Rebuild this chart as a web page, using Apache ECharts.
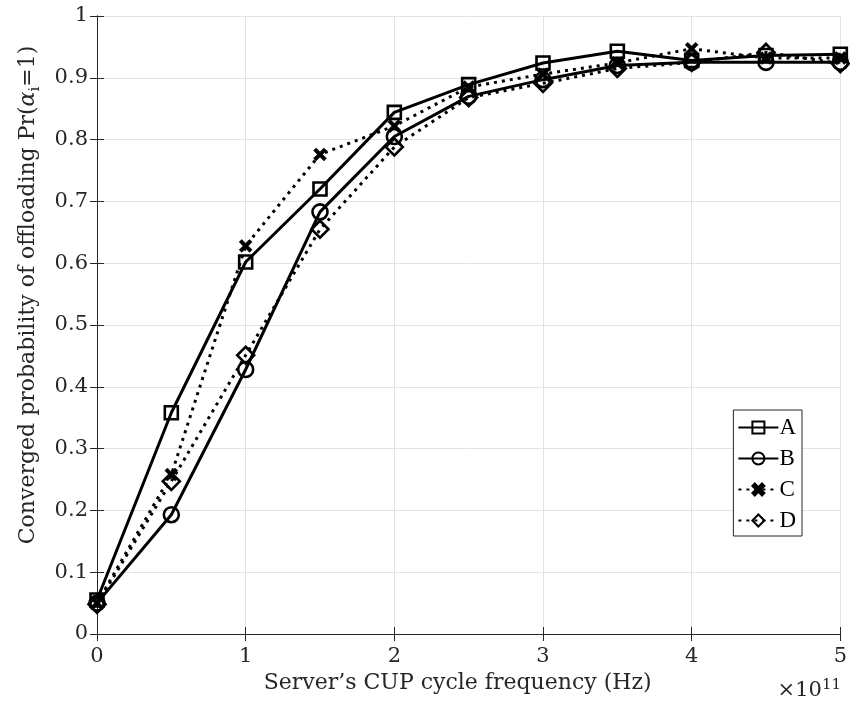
<!DOCTYPE html>
<html>
<head>
<meta charset="utf-8">
<script src="https://cdn.jsdelivr.net/npm/echarts@6/dist/echarts.min.js"></script>
<style>html,body{margin:0;padding:0;background:#fff}#c{width:850px;height:713px}</style>
</head>
<body>
<div id="c"></div>
<script>
const xValues = [0, 0.5, 1, 1.5, 2, 2.5, 3, 3.5, 4, 4.5, 5];
const seriesA = [0.055, 0.358, 0.602, 0.720, 0.844, 0.889, 0.924, 0.943, 0.928, 0.936, 0.938];
const seriesB = [0.050, 0.193, 0.428, 0.683, 0.805, 0.870, 0.897, 0.920, 0.925, 0.925, 0.925];
const seriesC = [0.050, 0.258, 0.628, 0.776, 0.822, 0.885, 0.906, 0.924, 0.947, 0.932, 0.932];
const seriesD = [0.048, 0.247, 0.451, 0.655, 0.788, 0.868, 0.891, 0.915, 0.925, 0.941, 0.923];
const seriesNames = ['A', 'B', 'C', 'D'];
const xTicks = [0, 1, 2, 3, 4, 5];
const yTicks = [0, 0.1, 0.2, 0.3, 0.4, 0.5, 0.6, 0.7, 0.8, 0.9, 1];

const cm = 'DejaVu Serif';
const serif = 'Liberation Serif';
const axisCol = '#262626';
const txtCol = '#262626';
const xPath = 'path://M0,2 L2,0 L5,3 L8,0 L10,2 L7,5 L10,8 L8,10 L5,7 L2,10 L0,8 L3,5 Z';

function pairs(ys) { return xValues.map((x, i) => [x, ys[i]]); }

function mkSeries(name, ys, symbol, size, dotted, filled) {
  return {
    name: name, type: 'line', data: pairs(ys),
    symbol: symbol, symbolSize: size, showAllSymbol: true,
    lineStyle: { color: '#000', width: 3, type: dotted ? [3, 5] : 'solid', cap: 'butt' },
    itemStyle: filled ? { color: '#000', borderColor: '#000', borderWidth: 0.5 }
                      : { color: 'rgba(255,255,255,0)', borderColor: '#000', borderWidth: 2.6 },
    emphasis: { disabled: true },
    animation: false, z: 3
  };
}

const chart = echarts.init(document.getElementById('c'), null, { renderer: 'canvas' });
const commonX = {
  type: 'value', min: 0, max: 5, interval: 1,
  axisLine: { show: true, lineStyle: { color: axisCol, width: 1 } },
  axisTick: { show: true, inside: true, length: 7, lineStyle: { color: axisCol } },
  splitLine: { show: false }
};
const commonY = {
  type: 'value', min: 0, max: 1, interval: 0.1,
  axisLine: { show: true, lineStyle: { color: axisCol, width: 1 } },
  axisTick: { show: true, inside: true, length: 7, lineStyle: { color: axisCol } },
  splitLine: { show: false }
};

chart.setOption({
  backgroundColor: '#fff',
  animation: false,
  grid: { left: 97, right: 9, top: 16, bottom: 79, containLabel: false },
  xAxis: [
    Object.assign({}, commonX, {
      position: 'bottom',
      splitLine: { show: true, lineStyle: { color: '#e3e3e3', width: 1 } },
      axisLabel: { fontFamily: cm, fontSize: 21, color: txtCol, margin: 12,
        formatter: v => xTicks.includes(v) ? String(v) : '' },
      name: 'Server\u2019s CUP cycle frequency (Hz)', nameLocation: 'middle', nameGap: 37,
      nameTextStyle: { fontFamily: cm, fontSize: 22, color: txtCol, padding: [0, 22, 0, 0] }
    }),
    Object.assign({}, commonX, { position: 'top', axisLabel: { show: false } })
  ],
  yAxis: [
    Object.assign({}, commonY, {
      position: 'left',
      splitLine: { show: true, lineStyle: { color: '#e3e3e3', width: 1 } },
      axisLabel: { fontFamily: cm, fontSize: 21, color: txtCol, margin: 9,
        formatter: v => { const t = yTicks.find(k => Math.abs(k - v) < 1e-9); return t === undefined ? '' : String(t); } },
      name: '{n|Converged probability of offloading Pr(}{a|\u03B1}{s|i}{n|=1)}',
      nameLocation: 'middle', nameGap: 54, nameRotate: 90,
      nameTextStyle: {
        padding: [0, 0, 0, 60],
        rich: {
          n: { fontFamily: cm, fontSize: 22, color: txtCol },
          a: { fontFamily: cm, fontSize: 22, fontStyle: 'italic', color: txtCol },
          s: { fontFamily: cm, fontSize: 15, color: txtCol, padding: [14, 0, 0, 0] }
        }
      }
    }),
    Object.assign({}, commonY, { position: 'right', axisLabel: { show: false } })
  ],
  legend: {
    right: 48, top: 410, orient: 'vertical',
    backgroundColor: '#fff', borderColor: axisCol, borderWidth: 1,
    padding: [6, 6, 4, 4], itemGap: 8, itemWidth: 40, itemHeight: 15,
    textStyle: { fontFamily: serif, fontSize: 23, color: '#000', padding: [0, 0, 0, -4] },
    data: seriesNames
  },
  series: [
    mkSeries(seriesNames[0], seriesA, 'rect', 13, false, false),
    mkSeries(seriesNames[1], seriesB, 'circle', 15, false, false),
    mkSeries(seriesNames[2], seriesC, xPath, 13, true, true),
    mkSeries(seriesNames[3], seriesD, 'diamond', 17, true, false)
  ],
  graphic: [
    {
      type: 'text', right: 9, top: 678,
      style: {
        text: '\u00D710{s|11}',
        font: '21px "DejaVu Serif"', fill: txtCol,
        rich: { s: { fontFamily: cm, fontSize: 15, fill: txtCol, padding: [0, 0, 10, 0] } }
      }
    }
  ]
});
</script>
</body>
</html>
